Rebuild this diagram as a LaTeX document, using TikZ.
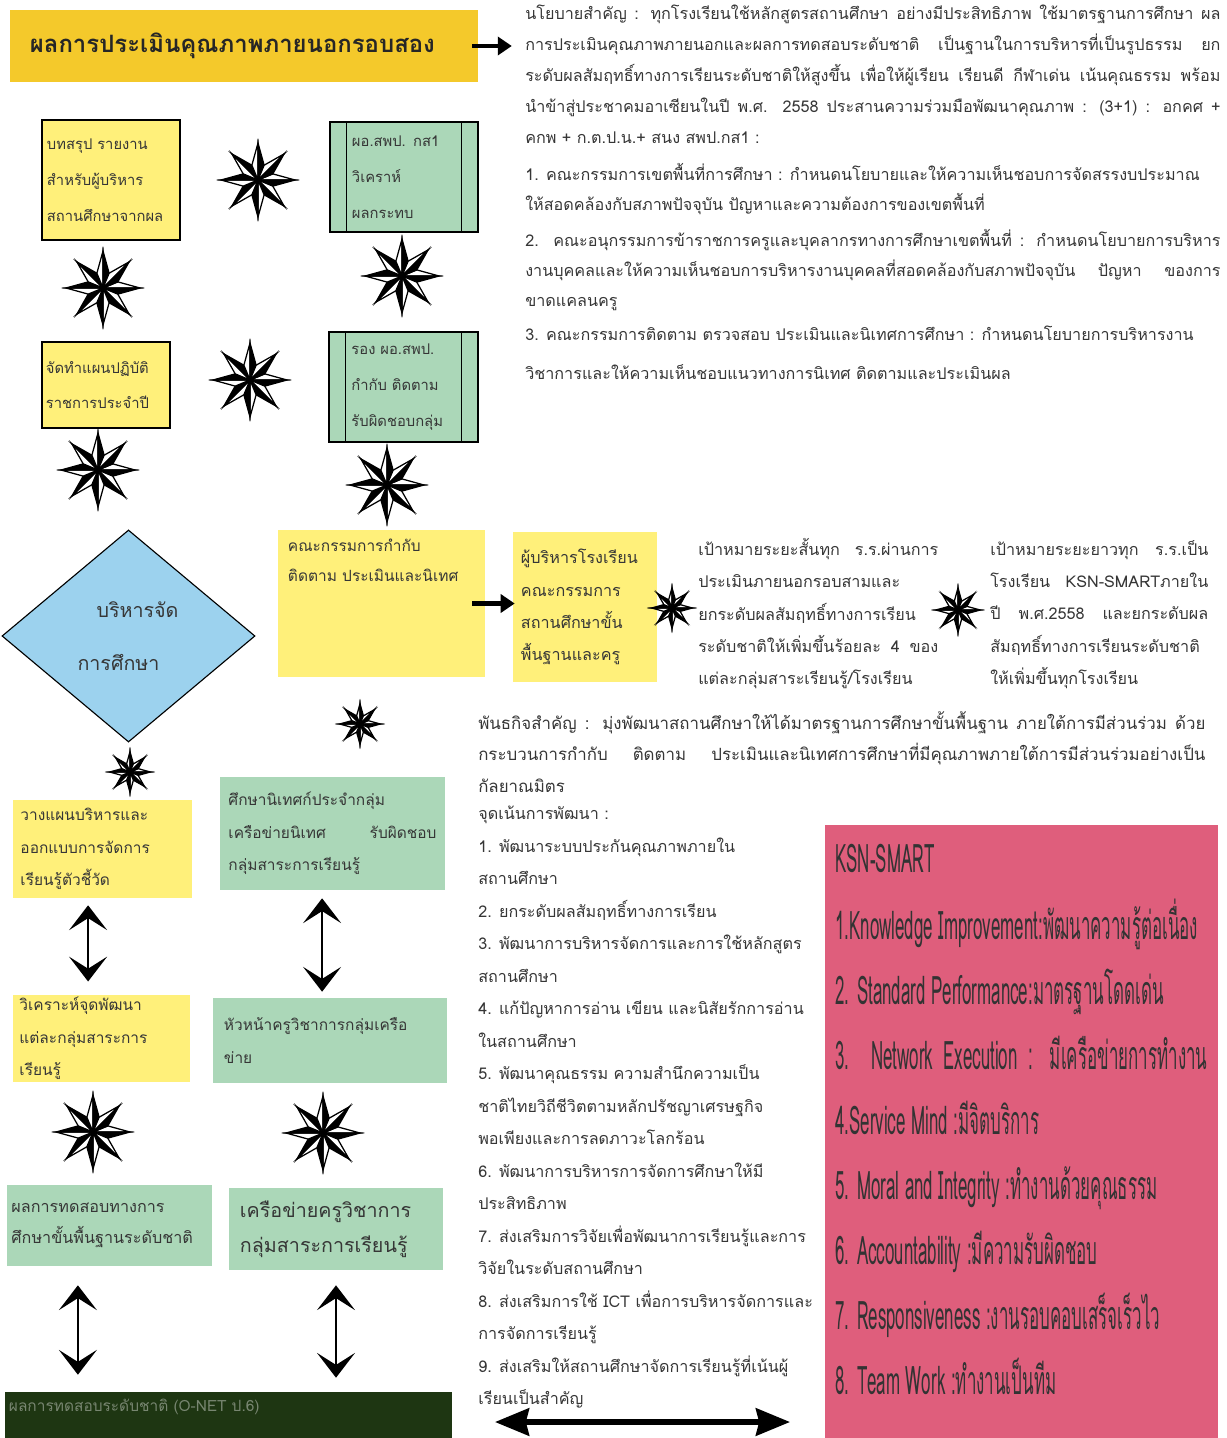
\documentclass[tikz,border=0pt]{standalone}
\usepackage{fontspec}
\setmainfont{Loma}[Script=Thai]
\newfontfamily\ksnfont{Loma}[Script=Thai, FakeStretch=0.43]
\usetikzlibrary{arrows.meta, positioning, calc, shapes.geometric}
\definecolor{TitleGold}{HTML}{F4C92B}
\definecolor{NoteYellow}{HTML}{FFF07A}
\definecolor{MintGreen}{HTML}{ABD7B8}
\definecolor{SkyBlue}{HTML}{9CD2EE}
\definecolor{RosePink}{HTML}{DF5E7C}
\definecolor{ForestDark}{HTML}{1E3612}
\definecolor{InkGray}{HTML}{363636}

\begin{document}
\begin{tikzpicture}[
    x=0.025cm, y=-0.025cm,
    title_box/.style={
        fill=TitleGold,
        minimum width=11.7cm, minimum height=1.8cm,
        text width=10.7cm, align=left, inner sep=0pt,
        font=\fontsize{17}{20}\selectfont\bfseries,
        text=black!85
    },
    frame_note/.style={
        draw=black, thick, fill=NoteYellow,
        inner sep=0pt, align=left,
        font=\fontsize{10.5}{25.5}\selectfont,
        text=InkGray
    },
    frame_panel/.style={
        draw=black, thick, fill=MintGreen,
        inner sep=0pt, align=left,
        font=\fontsize{10.5}{25.5}\selectfont,
        text=InkGray
    },
    flat_note/.style={
        fill=NoteYellow, inner sep=0pt, align=left,
        font=\fontsize{11}{23}\selectfont,
        text=InkGray
    },
    flat_panel/.style={
        fill=MintGreen, inner sep=0pt, align=left,
        font=\fontsize{11}{23}\selectfont,
        text=InkGray
    },
    body_text/.style={
        anchor=north west, inner sep=0pt,
        align=justify, text=InkGray
    },
    fat_arrow/.style={
        -{Triangle[length=0.35cm, width=0.45cm]},
        line width=3.5pt, color=black
    },
    twin_arrow/.style={
        {Stealth[length=0.62cm, width=0.95cm, inset=0.3cm]}-{Stealth[length=0.62cm, width=0.95cm, inset=0.3cm]},
        line width=1.8pt, color=black
    },
    wide_arrow/.style={
        {Stealth[length=0.85cm, width=0.68cm, inset=0.08cm]}-{Stealth[length=0.85cm, width=0.68cm, inset=0.08cm]},
        line width=4pt, color=black
    },
    compass_star/.pic={
        \foreach \a in {0,45,...,315} {
            \filldraw[fill=white, draw=black, line width=0.9pt]
                (0,0) -- (\a:37) -- (\a-22.5:16) -- cycle;
            \filldraw[fill=black, draw=black, line width=0.9pt]
                (0,0) -- (\a:37) -- (\a+22.5:16) -- cycle;
        }
    }
]

\useasboundingbox (0,0) rectangle (1226,1438);

% =========================
% TITLE AND POLICY
% =========================
\node[title_box] (title) at (244,46) {ผลการประเมินคุณภาพภายนอกรอบสอง};

\node[body_text, text width=17.375cm, font=\fontsize{11.5}{22}\selectfont]
    (policy) at (525,5) {%
    นโยบายสำคัญ  : ทุกโรงเรียนใช้หลักสูตรสถานศึกษา อย่างมีประสิทธิภาพ ใช้มาตรฐานการศึกษา ผล\linebreak
    การประเมินคุณภาพภายนอกและผลการทดสอบระดับชาติ  เป็นฐานในการบริหารที่เป็นรูปธรรม  ยก\linebreak
    ระดับผลสัมฤทธิ์ทางการเรียนระดับชาติให้สูงขึ้น เพื่อให้ผู้เรียน เรียนดี  กีฬาเด่น เน้นคุณธรรม พร้อม\linebreak
    นำข้าสู่ประชาคมอาเซียนในปี พ.ศ. 2558  ประสานความร่วมมือพัฒนาคุณภาพ  : (3+1) : อกคศ +\linebreak
    คกพ + ก.ต.ป.น.+ สนง สพป.กส1 :};

\draw[fat_arrow, shorten <=-0.15cm, shorten >=0.33cm]
    (title.east) -- (title.east -| policy.west);

\node[body_text, text width=17.375cm, font=\fontsize{11.5}{21.3}\selectfont]
    (committee) at (525,163) {%
    1.  คณะกรรมการเขตพื้นที่การศึกษา : กำหนดนโยบายและให้ความเห็นชอบการจัดสรรงบประมาณ\\
    ให้สอดคล้องกับสภาพปัจจุบัน ปัญหาและความต้องการของเขตพื้นที่\\[4.3pt]
    2.  คณะอนุกรรมการข้าราชการครูและบุคลากรทางการศึกษาเขตพื้นที่ :  กำหนดนโยบายการบริหาร\linebreak
    งานบุคคลและให้ความเห็นชอบการบริหารงานบุคคลที่สอดคล้องกับสภาพปัจจุบัน  ปัญหา  ของการ\linebreak
    ขาดแคลนครู\\[2.8pt]
    3.  คณะกรรมการติดตาม ตรวจสอบ ประเมินและนิเทศการศึกษา : กำหนดนโยบายการบริหารงาน\\[6.4pt]
    วิชาการและให้ความเห็นชอบแนวทางการนิเทศ ติดตามและประเมินผล};

% =========================
% UPPER LEFT BOXES
% =========================
\node[frame_note, minimum width=3.45cm, minimum height=3cm, text width=3.2cm]
    (summary) at (111,180) {บทสรุป รายงาน\\สำหรับผู้บริหาร\\สถานศึกษาจากผล};
\node[frame_panel, minimum width=3.7cm, minimum height=2.75cm, text width=2.6cm]
    (director) at (404,177) {ผอ.สพป. กส1\\วิเคราห์\\ผลกระทบ};
\node[frame_note, minimum width=3.2cm, minimum height=2.15cm, text width=3cm]
    (actionplan) at (106,385) {จัดทำแผนปฏิบัติ\\ราชการประจำปี};
\node[frame_panel, minimum width=3.725cm, minimum height=2.75cm, text width=2.6cm]
    (deputy) at (403.5,387) {รอง ผอ.สพป.\\กำกับ ติดตาม\\รับผิดชอบกลุ่ม};

% side bars of the panels
\foreach \b in {director, deputy} {
    \draw[thick] ([shift={(17,0)}]\b.north west) -- ([shift={(17,0)}]\b.south west);
    \draw[thick] ([shift={(-17,0)}]\b.north east) -- ([shift={(-17,0)}]\b.south east);
}

\pic at (258,180) {compass_star};
\pic at (103,288) {compass_star};
\pic at (402,276) {compass_star};
\pic at (250,380) {compass_star};
\pic at (98,470) {compass_star};
\pic at (387,485) {compass_star};

% =========================
% MIDDLE ROW
% =========================
\node[diamond, draw=black, thick, fill=SkyBlue, minimum width=6.325cm,
      minimum height=5.3cm, inner sep=0pt, align=center, text=InkGray,
      font=\fontsize{14}{38}\selectfont]
    (manage) at (128.5,636) {\hspace*{0.45cm}บริหารจัด\\การศึกษา\hspace*{0.5cm}};

\node[flat_note, minimum width=5.175cm, minimum height=3.675cm]
    (steering) at (381.5,603.5) {};
\node[body_text, align=left, font=\fontsize{11}{21.3}\selectfont]
    (steering_text) at ([shift={(10,9)}]steering.north west)
    {คณะกรรมการกำกับ\\ติดตาม ประเมินและนิเทศ};

\node[flat_note, minimum width=3.6cm, minimum height=3.75cm, text width=3.2cm,
      font=\fontsize{11.5}{23}\selectfont]
    (schoolboard) at (585,607) {ผู้บริหารโรงเรียน\\คณะกรรมการ\\สถานศึกษาขั้น\\พื้นฐานและครู};

\draw[fat_arrow, shorten <=-0.33cm, shorten >=-0.05cm]
    (steering.east) -- (steering.east -| schoolboard.west);

\pic[scale=0.55] at (672,608) {compass_star};

\node[body_text, text width=6cm, font=\fontsize{11.5}{23}\selectfont]
    (shortgoal) at (698,538) {%
    เป้าหมายระยะสั้นทุก ร.ร.ผ่านการ\linebreak
    ประเมินภายนอกรอบสามและ\\
    ยกระดับผลสัมฤทธิ์ทางการเรียน\\
    ระดับชาติให้เพิ่มขึ้นร้อยละ 4 ของ\linebreak
    แต่ละกลุ่มสาระเรียนรู้/โรงเรียน};

\pic[scale=0.6] at (958,610) {compass_star};

\node[body_text, text width=5.45cm, font=\fontsize{11.5}{23}\selectfont]
    (longgoal) at (990,540) {%
    เป้าหมายระยะยาวทุก  ร.ร.เป็น\linebreak
    โรงเรียน  KSN-SMARTภายใน\linebreak
    ปี  พ.ศ.2558  และยกระดับผล\linebreak
    สัมฤทธิ์ทางการเรียนระดับชาติ\\
    ให้เพิ่มขึ้นทุกโรงเรียน};

\pic[scale=0.55] at (360,724) {compass_star};
\pic[scale=0.55] at (130,772) {compass_star};

% =========================
% MISSION AND FOCUS
% =========================
\node[body_text, text width=18.175cm, font=\fontsize{12}{22.5}\selectfont]
    (mission) at (478,711) {%
    พันธกิจสำคัญ  :  มุ่งพัฒนาสถานศึกษาให้ได้มาตรฐานการศึกษาขั้นพื้นฐาน  ภายใต้การมีส่วนร่วม  ด้วย\linebreak
    กระบวนการกำกับ  ติดตาม  ประเมินและนิเทศการศึกษาที่มีคุณภาพภายใต้การมีส่วนร่วมอย่างเป็น\linebreak
    กัลยาณมิตร};

\node[body_text, align=left, font=\fontsize{11.5}{23.1}\selectfont]
    (focus) at (478,806) {%
    จุดเน้นการพัฒนา  :\\
    1.  พัฒนาระบบประกันคุณภาพภายใน\\
    สถานศึกษา\\
    2.  ยกระดับผลสัมฤทธิ์ทางการเรียน\\
    3. พัฒนาการบริหารจัดการและการใช้หลักสูตร\\
    สถานศึกษา\\
    4.  แก้ปัญหาการอ่าน เขียน และนิสัยรักการอ่าน\\
    ในสถานศึกษา\\
    5.  พัฒนาคุณธรรม ความสำนึกความเป็น\\
    ชาติไทยวิถีชีวิตตามหลักปรัชญาเศรษฐกิจ\\
    พอเพียงและการลดภาวะโลกร้อน\\
    6.  พัฒนาการบริหารการจัดการศึกษาให้มี\\
    ประสิทธิภาพ\\
    7.  ส่งเสริมการวิจัยเพื่อพัฒนาการเรียนรู้และการ\\
    วิจัยในระดับสถานศึกษา\\
    8.  ส่งเสริมการใช้ ICT เพื่อการบริหารจัดการและ\\
    การจัดการเรียนรู้\\
    9.  ส่งเสริมให้สถานศึกษาจัดการเรียนรู้ที่เน้นผู้\\
    เรียนเป็นสำคัญ};

\coordinate (wide_left) at (495,1422);
\coordinate (wide_right) at (790,1422);
\draw[wide_arrow] (wide_left) -- (wide_right);

% =========================
% LOWER LEFT BOXES
% =========================
\node[flat_note, minimum width=4.475cm, minimum height=2.45cm, text width=4.1cm]
    (plan_design) at (102.5,849) {วางแผนบริหารและ\\ออกแบบการจัดการ\\เรียนรู้ตัวชี้วัด};
\node[flat_panel, minimum width=5.625cm, minimum height=2.825cm, text width=5.2cm]
    (supervisor) at (332.5,833.5) {ศึกษานิเทศก์ประจำกลุ่ม\\เครือข่ายนิเทศ\hfill รับผิดชอบ\\กลุ่มสาระการเรียนรู้};
\node[flat_note, minimum width=4.425cm, minimum height=2.175cm, text width=4.1cm]
    (analysis) at (101.5,1038.5) {วิเคราะห์จุดพัฒนา\\แต่ละกลุ่มสาระการ\\เรียนรู้};
\node[flat_panel, minimum width=5.85cm, minimum height=2.125cm, text width=5.3cm]
    (headteacher) at (330,1040.5) {หัวหน้าครูวิชาการกลุ่มเครือ\\ข่าย};

\draw[twin_arrow, shorten <=0.175cm, shorten >=0.33cm]
    ([xshift=-0.36cm]plan_design.south) -- ([xshift=-0.36cm]plan_design.south |- analysis.north);
\draw[twin_arrow, shorten <=0.2cm, shorten >=0.15cm]
    ([xshift=-0.26cm]supervisor.south) -- ([xshift=-0.26cm]supervisor.south |- headteacher.north);

\pic at (93,1132) {compass_star};
\pic at (323,1133) {compass_star};

\node[flat_panel, minimum width=5.125cm, minimum height=2.025cm, text width=4.9cm,
      font=\fontsize{11.5}{22}\selectfont]
    (national_test) at (109.5,1225.5) {ผลการทดสอบทางการ\\ศึกษาขั้นพื้นฐานระดับชาติ};
\node[flat_panel, minimum width=5.35cm, minimum height=2.05cm, text width=4.8cm,
      font=\fontsize{14}{25}\selectfont]
    (teacher_net) at (336,1229) {เครือข่ายครูวิชาการ\\กลุ่มสาระการเรียนรู้};

\node[fill=ForestDark, minimum width=11.175cm, minimum height=1.15cm, inner sep=0pt]
    (onet_bar) at (228.5,1415) {};
\node[anchor=west, inner sep=0pt, text=ForestDark!60!white, font=\fontsize{11}{12}\selectfont]
    (onet_label) at ([shift={(4,-8)}]onet_bar.west) {ผลการทดสอบระดับชาติ (O-NET ป.6)};

\draw[twin_arrow, shorten <=0.475cm, shorten >=0.425cm]
    ([xshift=-0.79cm]national_test.south) -- ([xshift=-0.79cm]national_test.south |- onet_bar.north);
\draw[twin_arrow, shorten <=0.375cm, shorten >=0.35cm]
    (teacher_net.south) -- (teacher_net.south |- onet_bar.north);

% =========================
% KSN-SMART PANEL
% =========================
\node[fill=RosePink, minimum width=9.825cm, minimum height=15.325cm, inner sep=0pt]
    (ksn_panel) at (1021.5,1131.5) {};
\node[body_text, text width=9.3cm, text=black!80,
      font=\ksnfont\fontsize{28}{46.2}\selectfont]
    (ksn) at (835,844) {%
    KSN-SMART\\[1.5pt]
    1.Knowledge Improvement:พัฒนาความรู้ต่อเนื่อง\\
    2. Standard Performance:มาตรฐานโดดเด่น\\
    3.  Network  Execution  :  มีเครือข่ายการทำงาน\linebreak
    4.Service Mind :มีจิตบริการ\\
    5. Moral and Integrity :ทำงานด้วยคุณธรรม\\
    6. Accountability :มีความรับผิดชอบ\\
    7. Responsiveness :งานรอบคอบเสร็จเร็วไว\\
    8. Team Work :ทำงานเป็นทีม};

\end{tikzpicture}
\end{document}
